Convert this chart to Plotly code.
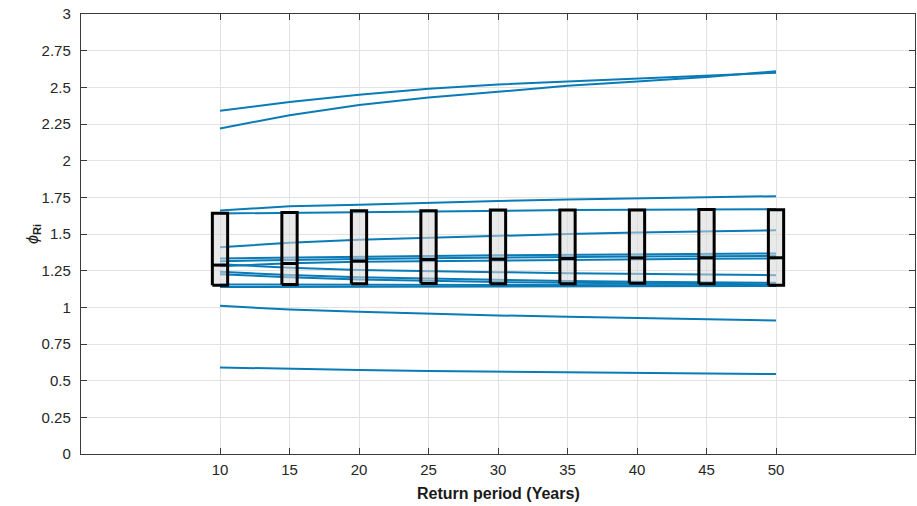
import plotly.graph_objects as go

years = [10, 15, 20, 25, 30, 35, 40, 45, 50]

series = [
    [2.34, 2.40, 2.45, 2.49, 2.52, 2.54, 2.56, 2.58, 2.60],
    [2.22, 2.31, 2.38, 2.43, 2.47, 2.51, 2.54, 2.57, 2.61],
    [1.66, 1.69, 1.70, 1.715, 1.725, 1.735, 1.745, 1.75, 1.758],
    [1.64, 1.645, 1.65, 1.655, 1.66, 1.663, 1.665, 1.667, 1.669],
    [1.41, 1.44, 1.46, 1.475, 1.49, 1.50, 1.51, 1.52, 1.526],
    [1.333, 1.34, 1.345, 1.35, 1.355, 1.358, 1.362, 1.365, 1.367],
    [1.315, 1.325, 1.33, 1.335, 1.34, 1.343, 1.346, 1.349, 1.351],
    [1.28, 1.30, 1.31, 1.315, 1.32, 1.325, 1.328, 1.331, 1.333],
    [1.294, 1.27, 1.255, 1.245, 1.24, 1.232, 1.228, 1.223, 1.219],
    [1.242, 1.22, 1.205, 1.195, 1.188, 1.18, 1.175, 1.17, 1.167],
    [1.226, 1.205, 1.19, 1.18, 1.172, 1.167, 1.163, 1.159, 1.156],
    [1.156, 1.155, 1.154, 1.153, 1.152, 1.151, 1.151, 1.15, 1.15],
    [1.139, 1.14, 1.141, 1.142, 1.143, 1.144, 1.145, 1.145, 1.146],
    [1.01, 0.985, 0.97, 0.955, 0.945, 0.935, 0.925, 0.918, 0.91],
    [0.59, 0.58, 0.572, 0.566, 0.561, 0.557, 0.553, 0.549, 0.545],
]

box_q1 = [1.151, 1.156, 1.160, 1.162, 1.160, 1.160, 1.165, 1.160, 1.151]
box_median = [1.288, 1.299, 1.315, 1.326, 1.328, 1.333, 1.337, 1.338, 1.338]
box_q3 = [1.642, 1.647, 1.658, 1.658, 1.663, 1.663, 1.663, 1.667, 1.665]

y_ticks = [0, 0.25, 0.5, 0.75, 1, 1.25, 1.5, 1.75, 2, 2.25, 2.5, 2.75, 3]
y_tick_labels = ["0", "0.25", "0.5", "0.75", "1", "1.25", "1.5", "1.75", "2",
                 "2.25", "2.5", "2.75", "3"]

line_color = "#0a7bb6"
font_family = "Liberation Sans, Arial, sans-serif"
box_half = 0.55

fig = go.Figure()
for s in series:
    fig.add_trace(go.Scatter(x=years, y=s, mode="lines",
                             line=dict(color=line_color, width=2),
                             showlegend=False, hoverinfo="skip"))

# boxes built from the box statistics
bx, by, mx, my = [], [], [], []
for yr, q1, med, q3 in zip(years, box_q1, box_median, box_q3):
    x0, x1 = yr - box_half, yr + box_half
    bx += [x0, x1, x1, x0, x0, None]
    by += [q1, q1, q3, q3, q1, None]
    mx += [x0, x1, None]
    my += [med, med, None]

fig.add_trace(go.Scatter(x=bx, y=by, mode="lines", fill="toself",
                         fillcolor="rgba(215,215,215,0.55)",
                         line=dict(color="black", width=3),
                         showlegend=False, hoverinfo="skip"))
fig.add_trace(go.Scatter(x=mx, y=my, mode="lines",
                         line=dict(color="black", width=3),
                         showlegend=False, hoverinfo="skip"))

axis_common = dict(showline=True, linecolor="#3a3a3a", linewidth=1.2,
                   mirror="allticks", ticks="inside", ticklen=6,
                   tickcolor="#3a3a3a", showgrid=True, gridcolor="#e2e2e2",
                   gridwidth=1, zeroline=False, automargin=False,
                   ticklabeloverflow="allow",
                   tickfont=dict(family=font_family, size=15, color="#262626"))

fig.update_xaxes(range=[0, 60], tickvals=years,
                 ticktext=[str(y) for y in years], ticklabelstandoff=2,
                 **axis_common)
fig.update_yaxes(range=[0, 3], tickvals=y_ticks, ticktext=y_tick_labels,
                 ticklabelstandoff=6, **axis_common)

fig.add_annotation(text="<b>Return period (Years)</b>", xref="paper", yref="paper",
                   x=0.5, y=0, yshift=-39, showarrow=False, yanchor="middle",
                   font=dict(family=font_family, size=16, color="#1a1a1a"))
fig.add_annotation(text="<i>ϕ</i><sub><b>Ri</b></sub>", xref="paper", yref="paper",
                   x=0, y=0.5, xshift=-48, showarrow=False, textangle=-90,
                   xanchor="center", yanchor="middle",
                   font=dict(family=font_family, size=16, color="#1a1a1a"))

fig.update_layout(width=917, height=506,
                  margin=dict(l=81, r=2, t=14, b=52, autoexpand=False),
                  plot_bgcolor="white", paper_bgcolor="white",
                  font=dict(family=font_family), hovermode=False)

fig.write_html("out.html", config={"displayModeBar": False, "staticPlot": True},
               post_script="document.body.style.margin='0';"
                           "document.body.style.overflow='hidden';")
